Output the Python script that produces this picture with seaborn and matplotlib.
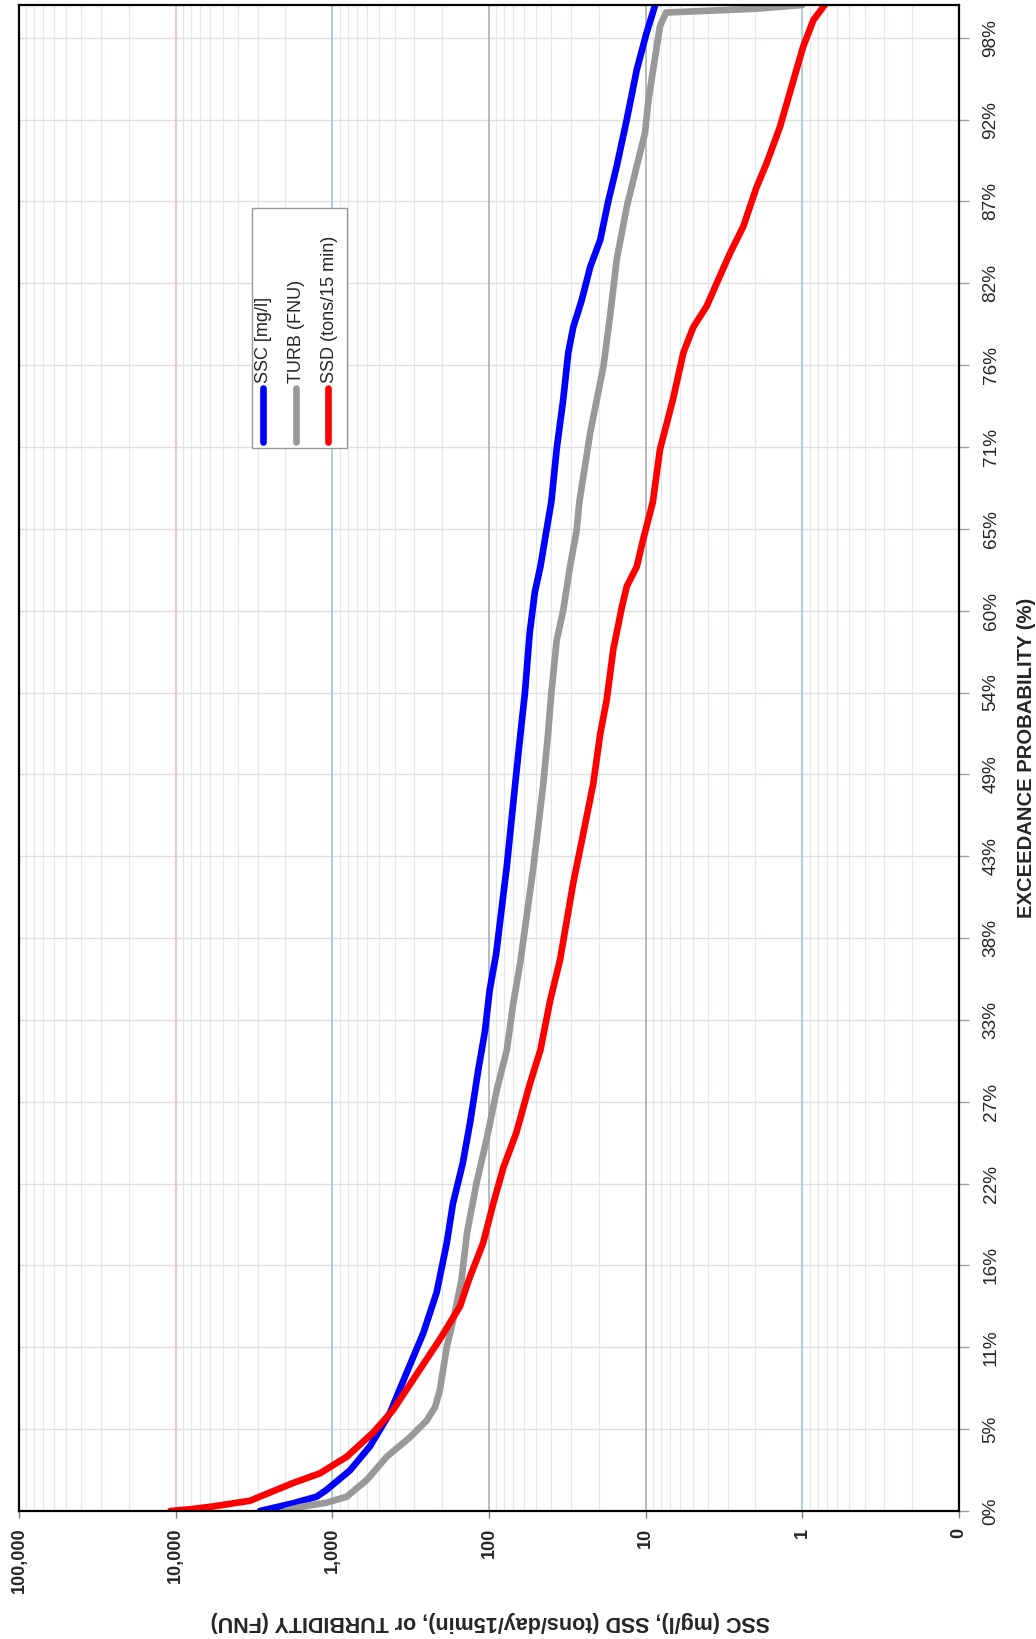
"""
Exceedance probability curves for suspended sediment concentration (SSC),
turbidity (TURB) and suspended sediment discharge (SSD).
The figure keeps the portrait (rotated) layout of the original report page:
probability runs up the right-hand side, the log value axis runs right-to-left.
"""

import matplotlib

matplotlib.use("Agg")
import matplotlib.pyplot as plt
import pandas as pd
import seaborn as sns
from matplotlib.patches import Rectangle
from matplotlib.ticker import LogLocator, NullFormatter

OUTPUT_PNG = "out.png"

# ==============================================================================
# DATA
# ==============================================================================
SERIES_NAMES = ["SSC [mg/l]", "TURB (FNU)", "SSD (tons/15 min)"]
SERIES_COLORS = ["#0000ff", "#999999", "#ff0000"]

SSC_PROB = [0, 0.5, 0.95, 1.4, 2.7, 4.3, 6.5, 9.2, 11.8, 14.5, 17.8, 20.4,
            23.1, 25.8, 29.3, 31.9, 34.6, 37.0, 42.8, 48.3, 51.6, 54.3, 58.3,
            61.0, 62.7, 65.1, 67.0, 70.5, 73.8, 76.9, 78.6, 80.4, 82.6, 84.4,
            87.0, 89.3, 92.4, 95.7, 98.1, 100]
SSC_VALUE = [2900, 1800, 1260, 1090, 771, 575, 429, 335, 263, 216, 186, 170,
             147, 132, 117, 106, 99, 90, 77, 68, 63, 59, 55,
             51, 47, 43, 40, 37, 33.6, 31.2, 29, 25.6, 22.6, 19.5,
             17.3, 15.3, 13.2, 11.4, 9.9, 8.7]

TURB_PROB = [0, 0.3, 0.55, 0.95, 2.06, 3.6, 4.9, 6.0, 6.9, 8.0, 10.9, 12.7,
             15.3, 18.5, 21.8, 24.8, 28.0, 30.6, 33.7, 36.5, 42.8, 48.3, 51.6,
             54.3, 57.8, 59.8, 62.7, 65.1, 67.0, 71.6, 76.0, 79.3, 83.1, 86.6,
             89.3, 91.5, 93.7, 95.9, 98.6, 99.5, 99.75, 100]
TURB_VALUE = [2000, 1540, 1090, 810, 603, 450, 319, 250, 221, 206, 186, 169,
              150, 138, 120, 103, 89, 77, 70, 63, 52, 45, 42,
              40, 37, 33.6, 30.4, 27.6, 26.5, 22.6, 18.6, 16.9, 15.3, 13.2,
              11.4, 10.1, 9.6, 8.9, 8.1, 7.4, 2.0, 1.0]

SSD_PROB = [0, 0.12, 0.3, 0.68, 1.86, 2.5, 3.6, 5.2, 6.7, 8.7, 11.4, 13.6,
            15.3, 17.8, 20.4, 22.8, 25.1, 28.4, 30.6, 33.9, 36.6, 41.7, 45.0,
            48.3, 51.6, 53.9, 57.2, 60.0, 61.4, 62.7, 64.3, 67.0, 70.5, 73.8,
            76.9, 78.6, 80.0, 82.0, 83.5, 85.3, 87.9, 89.5, 91.9, 95.0, 97.2,
            99.0, 100]
SSD_VALUE = [10800, 8000, 5800, 3360, 1780, 1200, 810, 550, 410, 306, 206, 153,
             135, 109, 94, 81, 67, 54.7, 47, 40.7, 35.2, 29, 25,
             21.6, 19.5, 17.7, 16.1, 14.2, 13.2, 11.4, 10.5, 9.0, 8.1, 6.7,
             5.75, 4.97, 4.08, 3.36, 2.9, 2.38, 1.96, 1.69, 1.39, 1.14, 0.99,
             0.85, 0.72]

VALUE_TICKS = [1e5, 1e4, 1e3, 1e2, 1e1, 1e0, 1e-1]
VALUE_TICK_LABELS = ["100,000", "10,000", "1,000", "100", "10", "1", "0"]
PROB_TICK_LABELS = ["0%", "5%", "11%", "16%", "22%", "27%", "33%", "38%", "43%",
                    "49%", "54%", "60%", "65%", "71%", "76%", "82%", "87%",
                    "92%", "98%"]
PROB_TICK_STEP = 100 / 18.4  # category-axis tick spacing of the source chart

VALUE_LABEL = "SSC (mg/l), SSD (tons/day/15min), or TURBIDITY (FNU)"
PROB_LABEL = "EXCEEDANCE PROBABILITY (%)"

# colours of the decade gridlines (10,000 ... 1)
DECADE_GRID_COLORS = ["#eab4bd", "#94c6cb", "#9fa9a9", "#9fa9a9", "#94c6cb"]


def build_frame():
    """Stacks the three curves into one long table for seaborn."""
    parts = []
    for name, probs, values in zip(
        SERIES_NAMES,
        [SSC_PROB, TURB_PROB, SSD_PROB],
        [SSC_VALUE, TURB_VALUE, SSD_VALUE],
    ):
        parts.append(pd.DataFrame({"Series": name, "Exceedance": probs, "Value": values}))
    return pd.concat(parts, ignore_index=True)


def draw_legend(ax):
    """Vertical legend box, drawn by hand because the text is rotated."""
    ax.add_patch(
        Rectangle((0.2479, 0.7058), 0.101, 0.1594, transform=ax.transAxes,
                  facecolor="white", edgecolor="#9a9a9a", linewidth=1.0, zorder=5)
    )
    for i, (name, color) in enumerate(zip(SERIES_NAMES, SERIES_COLORS)):
        x = 0.2596 + i * 0.0346
        ax.plot([x, x], [0.7095, 0.7455], transform=ax.transAxes, color=color,
                linewidth=4.8, solid_capstyle="round", zorder=6)
        ax.text(x + 0.001, 0.749, name, transform=ax.transAxes, rotation=90,
                ha="center", va="bottom", fontsize=13, zorder=6)


def main():
    sns.set_style("white")
    plt.rcParams["font.family"] = ["Liberation Sans", "DejaVu Sans"]

    df = build_frame()

    fig = plt.figure(figsize=(10.36, 16.39), dpi=100)
    ax = fig.add_axes([19 / 1036, 128 / 1639, 940 / 1036, 1506 / 1639])
    ax.set_xscale("log")
    ax.set_xlim(1e5, 1e-1)
    ax.set_ylim(0, 100)
    ax.set_axisbelow(True)

    # gridlines
    ax.xaxis.set_minor_locator(LogLocator(base=10, subs=range(2, 10)))
    ax.xaxis.set_minor_formatter(NullFormatter())
    ax.grid(which="minor", axis="x", color="#e0eaee", linewidth=0.9)
    ax.grid(which="major", axis="x", visible=False)
    ax.grid(which="major", axis="y", color="#dedede", linewidth=1.0)
    for v, c in zip(VALUE_TICKS[1:-1], DECADE_GRID_COLORS):
        ax.axvline(v, color=c, linewidth=1.1, zorder=0.6)

    sns.lineplot(
        data=df,
        x="Value",
        y="Exceedance",
        hue="Series",
        hue_order=SERIES_NAMES,
        palette=SERIES_COLORS,
        estimator=None,
        sort=False,
        orient="y",
        linewidth=4.8,
        solid_capstyle="round",
        legend=False,
        ax=ax,
    )

    # value axis (bottom, log, inverted)
    ax.set_xticks(VALUE_TICKS)
    ax.set_xticklabels(VALUE_TICK_LABELS, rotation=90, fontweight="bold", fontsize=13)
    ax.tick_params(axis="x", which="major", length=5, width=1, color="#808080",
                   pad=7, direction="out", bottom=True)
    ax.tick_params(axis="x", which="minor", length=0)
    ax.set_xlabel(VALUE_LABEL, rotation=180, fontweight="bold", fontsize=15.5)
    ax.xaxis.set_label_coords(0.501, -0.0665)

    # probability axis (right)
    ax.yaxis.tick_right()
    ax.yaxis.set_label_position("right")
    ax.set_yticks([k * PROB_TICK_STEP for k in range(len(PROB_TICK_LABELS))])
    ax.set_yticklabels(PROB_TICK_LABELS, rotation=90, va="center", fontsize=13.7)
    ax.tick_params(axis="y", length=7, width=1, color="#a0a0a0", pad=10,
                   direction="out", right=True)
    ax.set_ylabel(PROB_LABEL, rotation=90, fontweight="bold", fontsize=14.6)
    ax.yaxis.set_label_coords(1.062, 0.5)

    for spine in ax.spines.values():
        spine.set_visible(True)
        spine.set_color("black")
        spine.set_linewidth(1.6)

    draw_legend(ax)

    fig.savefig(OUTPUT_PNG, dpi=100)
    plt.close(fig)


if __name__ == "__main__":
    main()
